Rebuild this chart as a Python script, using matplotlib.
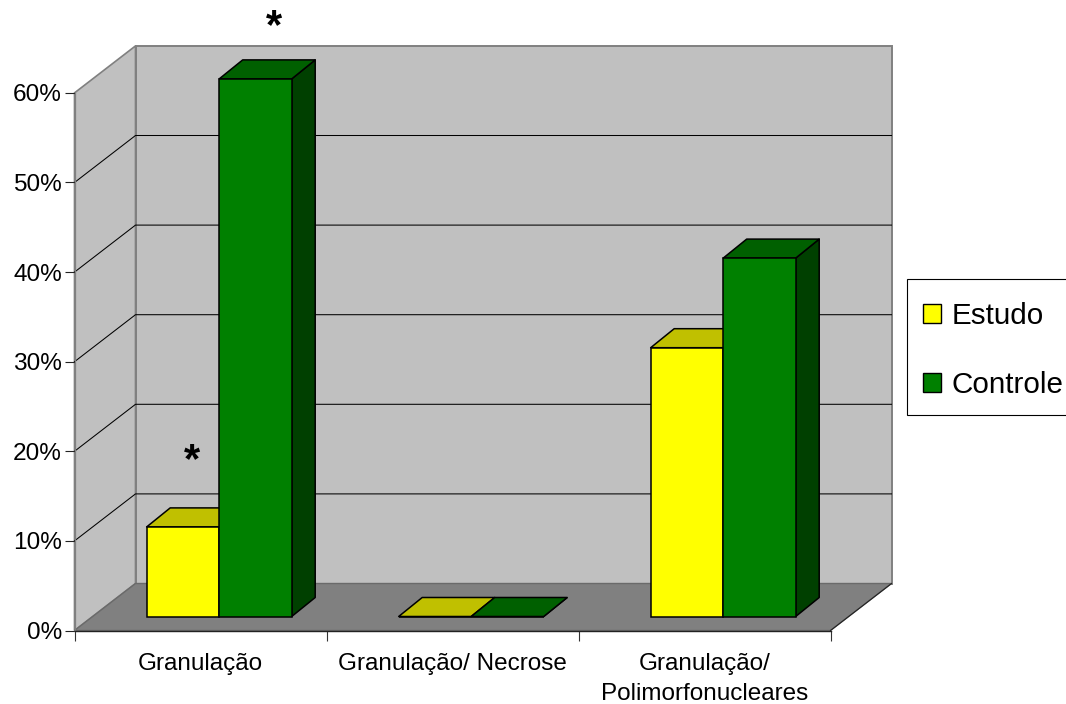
import matplotlib
matplotlib.use("Agg")
import matplotlib.pyplot as plt
from matplotlib.patches import Patch, Rectangle

categories = ["Granulação", "Granulação/ Necrose", "Granulação/\nPolimorfonucleares"]
series_names = ["Estudo", "Controle"]
estudo = [10, 0, 30]
controle = [60, 0, 40]
y_ticks = [0, 10, 20, 30, 40, 50, 60]

plt.rcParams["font.family"] = ["Liberation Sans", "DejaVu Sans"]

W, H = 1066, 704
X_UNIT = 252.0  # pixels per category
Y_UNIT = 8.96  # pixels per percent
X0, Y0 = 74.5, 630.5

# wall depth and bar depth, in data units
WALL_DX, WALL_DY = 61 / X_UNIT, 47 / Y_UNIT
BAR_DX, BAR_DY = 23.5 / X_UNIT, 19 / Y_UNIT
BAR_BASE = 14 / Y_UNIT
BAR_LEFT = 72.2 / X_UNIT
BAR_W = 72.5 / X_UNIT

YMAX = y_ticks[-1]
NCAT = len(categories)

fig = plt.figure(figsize=(W / 100, H / 100), dpi=100)
ax = fig.add_axes([0, 0, 1, 1])
ax.set_xlim(-X0 / X_UNIT, (W - X0) / X_UNIT)
ax.set_ylim(-(H - Y0) / Y_UNIT, Y0 / Y_UNIT)
ax.patch.set_visible(False)

# walls and floor
ax.fill([WALL_DX, NCAT + WALL_DX, NCAT + WALL_DX, WALL_DX],
        [WALL_DY, WALL_DY, YMAX + WALL_DY, YMAX + WALL_DY],
        fc="#C0C0C0", ec="#808080", lw=1.4, zorder=1)
ax.fill([0, WALL_DX, WALL_DX, 0], [0, WALL_DY, YMAX + WALL_DY, YMAX],
        fc="#C0C0C0", ec="#808080", lw=1.2, zorder=1)
ax.fill([0, NCAT, NCAT + WALL_DX, WALL_DX], [0, 0, WALL_DY, WALL_DY],
        fc="#808080", ec="#6A6A6A", lw=1.0, zorder=2)
ax.plot([NCAT, NCAT + WALL_DX], [0, WALL_DY], color="#222222", lw=0.8, zorder=3)

# gridlines run along the back wall and down the side wall
for t in y_ticks[1:-1]:
    ax.plot([0, WALL_DX, NCAT + WALL_DX], [t, t + WALL_DY, t + WALL_DY],
            color="black", lw=0.75, zorder=1.5)


def draw_bars(values, offset, front, top, side, zorder):
    xs = [i + BAR_LEFT + offset * BAR_W for i in range(NCAT)]
    for x, v in zip(xs, values):
        y = BAR_BASE + v
        ax.fill([x + BAR_W, x + BAR_W + BAR_DX, x + BAR_W + BAR_DX, x + BAR_W],
                [BAR_BASE, BAR_BASE + BAR_DY, y + BAR_DY, y],
                fc=side, ec="black", lw=1.1, joinstyle="round", zorder=zorder)
        ax.fill([x, x + BAR_W, x + BAR_W + BAR_DX, x + BAR_DX],
                [y, y, y + BAR_DY, y + BAR_DY],
                fc=top, ec="black", lw=1.1, joinstyle="round", zorder=zorder)
    ax.bar(xs, values, width=BAR_W, bottom=BAR_BASE, align="edge",
           fc=front, ec="black", lw=1.1, zorder=zorder + 0.1)


draw_bars(estudo, 0, "#FFFF00", "#C0C000", "#808000", 4)
draw_bars(controle, 1, "#008000", "#006000", "#004000", 5)

# significance marks
ax.text(0.465, 17.7, "*", fontsize=30, fontweight="bold", ha="center", va="baseline", zorder=7)
ax.text(0.79, 66.1, "*", fontsize=30, fontweight="bold", ha="center", va="baseline", zorder=7)

# axes sit on the front edge of the floor
for name in ("top", "right"):
    ax.spines[name].set_visible(False)
ax.spines["left"].set_position(("data", 0))
ax.spines["bottom"].set_position(("data", 0))
ax.spines["left"].set_bounds(0, YMAX)
ax.spines["bottom"].set_bounds(0, NCAT)
ax.spines["left"].set_color("#808080")
ax.spines["left"].set_linewidth(0.9)
ax.spines["bottom"].set_color("#222222")
ax.spines["bottom"].set_linewidth(1.0)
for s in ax.spines.values():
    s.set_zorder(6)

ax.set_yticks(y_ticks)
ax.set_yticklabels([f"{t}%" for t in y_ticks], fontsize=17.6)
ax.tick_params(axis="y", length=7, width=0.8, pad=2, color="#222222")
ax.set_xticks(range(NCAT + 1))
ax.set_xticklabels([])
ax.tick_params(axis="x", which="major", length=7, width=0.8, color="#333333")
ax.set_xticks([i + 0.5 for i in range(NCAT)], minor=True)
ax.set_xticklabels(categories, minor=True, fontsize=17.5, linespacing=1.5)
ax.tick_params(axis="x", which="minor", length=0, pad=16)

# legend frame is a separate box so the entries can sit closer to its left edge
ax.add_patch(Rectangle((906.7 / W, 1 - 415 / H), 200 / W, 136 / H, transform=fig.transFigure,
                       fc="white", ec="black", lw=0.8, zorder=7.5))
handles = [Patch(fc="#FFFF00", ec="black", lw=1.0, label=series_names[0]),
           Patch(fc="#008000", ec="black", lw=1.0, label=series_names[1])]
leg = ax.legend(handles=handles, loc="upper left", bbox_to_anchor=(900.7 / W, 1 - 280 / H),
                bbox_transform=fig.transFigure, borderaxespad=0, fontsize=21.3,
                frameon=False, handlelength=0.62, handleheight=0.62, handletextpad=0.34,
                borderpad=0.75, labelspacing=1.38)
leg.set_zorder(8)

fig.savefig("out.png", dpi=100)
